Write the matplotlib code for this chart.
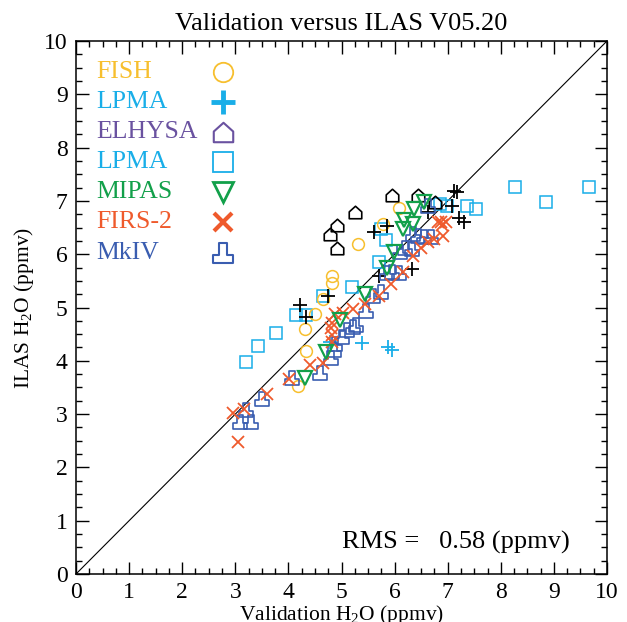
import matplotlib
matplotlib.use('Agg')
import matplotlib.pyplot as plt
from matplotlib.path import Path
from matplotlib.ticker import MultipleLocator

plt.rcParams['font.family'] = 'Liberation Serif'
plt.rcParams['mathtext.fontset'] = 'custom'
plt.rcParams['mathtext.rm'] = 'Liberation Serif'
plt.rcParams['mathtext.it'] = 'Liberation Serif:italic'

# FISH
fish_x = [6.09, 5.78, 5.32, 4.83, 4.83, 4.65, 4.51, 4.32, 4.34, 4.19]
fish_y = [6.87, 6.57, 6.19, 5.59, 5.46, 5.16, 4.88, 4.60, 4.18, 3.53]

# LPMA (squares)
lpma_sq_x = [3.21, 3.42, 3.76, 4.14, 4.34, 4.66, 5.19, 5.70, 5.83, 5.75,
             6.85, 6.98, 7.37, 7.54, 8.27, 8.85, 9.66]
lpma_sq_y = [3.97, 4.27, 4.53, 4.85, 4.85, 5.21, 5.38, 5.85, 6.26, 6.47,
             6.95, 6.90, 6.90, 6.84, 7.27, 6.97, 7.27]

# ELHYSA
elhysa_x = [4.79, 4.92, 4.91, 5.26, 5.96, 6.45, 6.77]
elhysa_y = [6.37, 6.54, 6.11, 6.79, 7.11, 7.12, 6.97]

# LPMA (black crosses)
lpma_bk_x = [4.21, 4.34, 4.75, 5.62, 5.86, 5.71, 6.32, 6.62, 7.09, 7.12,
             7.17, 7.22, 7.31]
lpma_bk_y = [5.04, 4.83, 5.21, 6.41, 6.53, 5.59, 5.72, 6.79, 6.90, 7.18,
             7.17, 6.68, 6.60]

# LPMA (cyan crosses)
lpma_cy_x = [4.79, 5.39, 5.88, 5.96]
lpma_cy_y = [4.36, 4.33, 4.25, 4.21]

# MIPAS
mipas_x = [4.32, 4.70, 4.98, 5.45, 5.85, 5.98, 6.15, 6.18, 6.35, 6.37, 6.56]
mipas_y = [3.68, 4.17, 4.77, 5.26, 5.75, 6.05, 6.47, 6.64, 6.56, 6.84, 6.97]

# FIRS-2
firs_x = [3.06, 2.95, 3.16, 3.59, 4.02, 4.40, 4.65, 4.83, 4.83, 4.81,
          4.83, 4.87, 5.02, 5.22, 5.45, 5.70, 5.94, 6.15, 6.34, 6.50,
          6.62, 6.75, 6.92, 6.82, 6.90, 6.97, 6.88]
firs_y = [2.48, 3.03, 3.10, 3.38, 3.65, 3.93, 3.95, 4.36, 4.49, 4.62,
          4.70, 4.87, 4.90, 4.98, 5.07, 5.21, 5.44, 5.67, 5.97, 6.12,
          6.22, 6.28, 6.34, 6.60, 6.55, 6.60, 6.60]

# MkIV
mkiv_x = [3.09, 3.30, 3.20, 3.51, 4.06, 4.60, 4.81, 4.85, 4.87, 5.00,
          5.11, 5.21, 5.28, 5.46, 5.60, 5.75, 5.85, 5.95, 6.08, 6.10,
          6.20, 6.32, 6.35, 6.45, 6.55, 6.68, 6.62]
mkiv_y = [2.85, 2.85, 3.08, 3.28, 3.68, 3.78, 4.06, 4.20, 4.32, 4.45,
          4.58, 4.63, 4.68, 4.93, 5.21, 5.30, 5.64, 5.66, 5.65, 6.05,
          6.12, 6.10, 6.38, 6.34, 6.32, 6.32, 6.90]

rms = 0.58

# custom marker shapes
house = Path([(-1, -1), (1, -1), (1, 0.1), (0, 1), (-1, 0.1), (-1, -1)],
             [Path.MOVETO, Path.LINETO, Path.LINETO, Path.LINETO, Path.LINETO,
              Path.CLOSEPOLY])
pedestal = Path([(-1, -1), (1, -1), (1, -0.2), (0.45, -0.2), (0.45, 1),
                 (-0.45, 1), (-0.45, -0.2), (-1, -0.2), (-1, -1)],
                [Path.MOVETO] + [Path.LINETO] * 7 + [Path.CLOSEPOLY])

c_fish = '#f7bf2e'
c_lpma = '#19aee8'
c_elh = '#6a52a0'
c_mipas = '#12a04a'
c_firs = '#ef5a2c'
c_mkiv = '#3a5db0'

fig = plt.figure(figsize=(6.27, 6.22), dpi=100)
ax = fig.add_axes([76 / 627, 48 / 622, 531 / 627, 533 / 622])

ax.plot([0, 10], [0, 10], color='black', lw=0.8, zorder=1)

ax.plot(lpma_sq_x, lpma_sq_y, ls='none', marker='s', ms=8, mfc='none',
        mec=c_lpma, mew=1.1)
ax.plot(fish_x, fish_y, ls='none', marker='o', ms=8.5, mfc='none',
        mec=c_fish, mew=1.1)
ax.plot(elhysa_x, elhysa_y, ls='none', marker=house, ms=9, mfc='none',
        mec='black', mew=1.2)
ax.plot(lpma_bk_x, lpma_bk_y, ls='none', marker='+', ms=10, mec='black',
        mew=1.3)
ax.plot(lpma_cy_x, lpma_cy_y, ls='none', marker='+', ms=10, mec=c_lpma,
        mew=1.3)
ax.plot(mkiv_x, mkiv_y, ls='none', marker=pedestal, ms=9.5, mfc='none',
        mec=c_mkiv, mew=1.2)
ax.plot(firs_x, firs_y, ls='none', marker='x', ms=8, mec=c_firs, mew=1.3)
ax.plot(mipas_x, mipas_y, ls='none', marker='v', ms=9.5, mfc='none',
        mec=c_mipas, mew=1.6)

# legend drawn by hand: name on the left, symbol on the right
names = ['FISH', 'LPMA', 'ELHYSA', 'LPMA', 'MIPAS', 'FIRS-2', 'MkIV']
colors = [c_fish, c_lpma, c_elh, c_lpma, c_mipas, c_firs, c_mkiv]
symbols = ['o', '+', house, 's', 'v', 'x', pedestal]
sym_size = [14, 17, 14, 14, 14, 13, 14]
sym_width = [1.3, 3.5, 1.5, 1.3, 2.0, 3.0, 1.5]
for i, name in enumerate(names):
    yy = 0.942 - i * 0.0565
    ax.text(0.038, yy, name, color=colors[i], fontsize=18.5,
            transform=ax.transAxes, va='center', ha='left')
    ax.plot([0.276], [yy], transform=ax.transAxes, ls='none',
            marker=symbols[i], ms=sym_size[i], mfc='none', mec=colors[i],
            mew=sym_width[i])

ax.text(5.0, 0.47, 'RMS =   %.2f (ppmv)' % rms, fontsize=19, ha='left',
        va='baseline')

ax.set_xlim(0, 10)
ax.set_ylim(0, 10)
ax.xaxis.set_major_locator(MultipleLocator(1))
ax.yaxis.set_major_locator(MultipleLocator(1))
ax.xaxis.set_minor_locator(MultipleLocator(0.25))
ax.yaxis.set_minor_locator(MultipleLocator(0.25))
ax.tick_params(which='both', direction='in', top=True, right=True,
               labelsize=17, width=1.0)
ax.tick_params(which='major', length=9, pad=6)
ax.tick_params(which='minor', length=4.5)
for sp in ax.spines.values():
    sp.set_linewidth(1.1)

ax.set_title('Validation versus ILAS V05.20', fontsize=19, pad=8)
ax.set_xlabel('Validation H$_2$O (ppmv)', fontsize=15.5, labelpad=0)
ax.set_ylabel('ILAS H$_2$O (ppmv)', fontsize=15.5, labelpad=6)

fig.savefig('out.png', dpi=100)
